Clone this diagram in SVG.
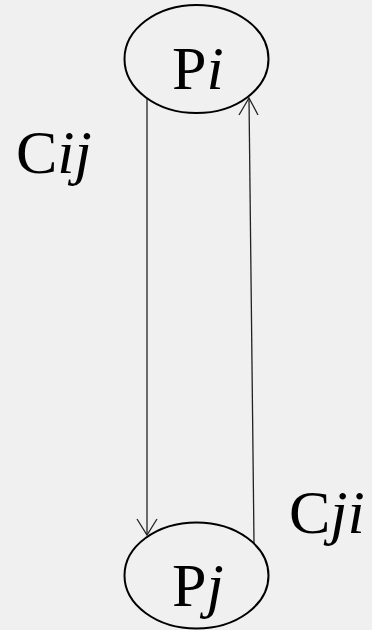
<svg xmlns="http://www.w3.org/2000/svg" width="372" height="630" viewBox="0 0 372 630">
<style>
.node{fill:none;stroke:#000;stroke-width:2}
.lbl{font-family:"Liberation Serif","Times New Roman",serif;font-size:62px;fill:#000}
.edge{fill:none;stroke:#222;stroke-width:1.3}
.head{fill:none;stroke:#222;stroke-width:1.3}
</style>
<rect width="372" height="630" fill="#f0f0f0"/>
<g id="connectors">
<line class="edge" x1="147" y1="98" x2="147" y2="534"/>
<polyline class="head" points="137,519 147,535 157,519"/>
<line class="edge" x1="254" y1="543" x2="249" y2="98"/>
<polyline class="head" points="239,115 249,98 258,115"/>
</g>
<g id="Pi">
<ellipse class="node" cx="196.5" cy="59" rx="72" ry="54"/>
<text class="lbl" x="172" y="89">P<tspan font-style="italic">i</tspan></text>
</g>
<g id="Pj">
<ellipse class="node" cx="196.5" cy="575.5" rx="72" ry="53"/>
<text class="lbl" x="172" y="606">P<tspan font-style="italic">j</tspan></text>
</g>
<g id="labels">
<text class="lbl" x="16" y="173">C<tspan font-style="italic">ij</tspan></text>
<text class="lbl" x="289" y="533">C<tspan font-style="italic">ji</tspan></text>
</g>
</svg>
